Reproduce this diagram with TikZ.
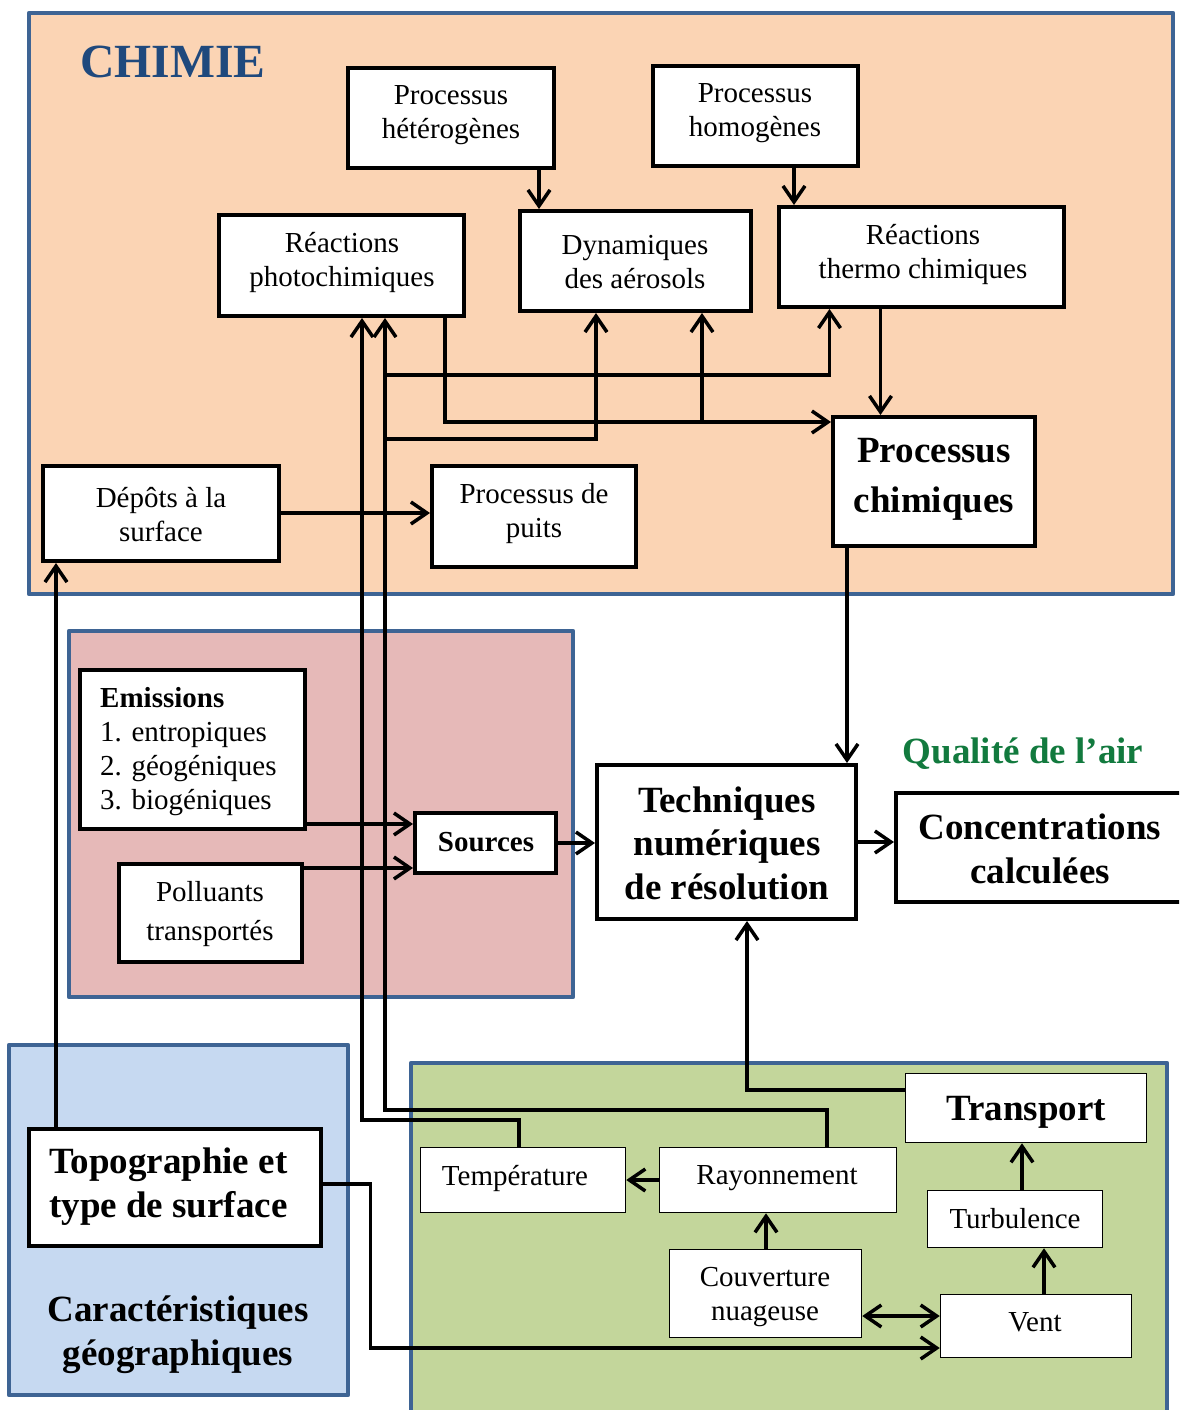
\documentclass[tikz,border=0pt]{standalone}
\usepackage{fontspec}
\setmainfont{Liberation Serif}
\usetikzlibrary{arrows.meta}

\definecolor{chemfill}{HTML}{FBD4B4}
\definecolor{srcfill}{HTML}{E6B9B8}
\definecolor{geofill}{HTML}{C6D9F1}
\definecolor{metfill}{HTML}{C3D69B}
\definecolor{panelframe}{HTML}{3E6494}
\definecolor{chemtitle}{HTML}{1F497D}
\definecolor{airtitle}{HTML}{127A3E}

\tikzset{
  panel/.style={draw=panelframe, line width=4.5pt, line join=round},
  box/.style={draw, fill=white, line width=4pt, inner sep=0pt, rectangle},
  thinbox/.style={draw, fill=white, line width=1.5pt, inner sep=0pt, rectangle},
  txt/.style={inner sep=0pt, align=center, font=\fontsize{29}{34}\selectfont},
  bigtxt/.style={inner sep=0pt, align=center, font=\fontsize{37}{44}\selectfont\bfseries},
  link/.style={line width=3.5pt, -{Straight Barb[length=16pt,width=22pt]}},
  twolink/.style={line width=3.5pt, {Straight Barb[length=16pt,width=22pt]}-{Straight Barb[length=16pt,width=22pt]}},
}

\begin{document}
\begin{tikzpicture}[x=1pt,y=-1pt]
\useasboundingbox (0,0) rectangle (1179,1410);
\fill[white] (0,0) rectangle (1179,1410);
\clip (0,0) rectangle (1179,1410);

% ---- panels ----
\draw[panel, fill=chemfill] (29,13) rectangle (1173,594);
\draw[panel, fill=srcfill] (69,631) rectangle (573,997);
\draw[panel, fill=geofill] (9,1045) rectangle (348,1395);
\draw[panel, fill=metfill] (411,1063) rectangle (1167,1440);

% ---- panel titles ----
\node[inner sep=0pt, text=chemtitle, font=\fontsize{47.6}{56}\selectfont\bfseries] (chimie) at (173,62) {CHIMIE};
\node[bigtxt, text=airtitle] (qualite) at (1023,754) {Qualité de l’air};
\node[bigtxt] (geo) at (178,1335) {Caractéristiques\\géographiques};

% ---- chemistry boxes ----
\node[box, minimum width=206, minimum height=100] (het) at (451,118) {};
\node[txt] (het-t) at (451,115) {Processus\\hétérogènes};
\node[box, minimum width=205, minimum height=100] (hom) at (755.5,116) {};
\node[txt] (hom-t) at (755,113) {Processus\\homogènes};
\node[box, minimum width=245, minimum height=101] (photo) at (341.5,265.5) {};
\node[txt] (photo-t) at (342,262.5) {Réactions\\photochimiques};
\node[box, minimum width=231, minimum height=100] (dyn) at (635.5,261) {};
\node[txt] (dyn-t) at (635,262) {Dynamiques\\des aérosols};
\node[box, minimum width=285, minimum height=100] (thermo) at (921.5,257) {};
\node[txt] (thermo-t) at (923,254.5) {Réactions\\thermo chimiques};
\node[box, minimum width=202, minimum height=129] (pchim) at (934,481.5) {};
\node[bigtxt, font=\fontsize{37}{50}\selectfont\bfseries] (pchim-t) at (934,479.5) {Processus\\chimiques};
\node[box, minimum width=236, minimum height=95] (depots) at (161,513.5) {};
\node[txt] (depots-t) at (161,515) {Dépôts à la\\surface};
\node[box, minimum width=204, minimum height=101] (puits) at (534,516.5) {};
\node[txt] (puits-t) at (534,514) {Processus de\\puits};

% ---- sources ----
\node[box, minimum width=225, minimum height=159] (emis) at (192.5,749.5) {};
\node[txt, align=left, anchor=west] (emis-t) at (100,752) {\textbf{Emissions}\\1. entropiques\\2. géogéniques\\3. biogéniques};
\node[box, minimum width=183, minimum height=98] (poll) at (210.5,913) {};
\node[txt, font=\fontsize{29}{39}\selectfont] (poll-t) at (210,914.5) {Polluants\\transportés};
\node[box, minimum width=141, minimum height=60] (src) at (485.5,843) {};
\node[txt, font=\fontsize{29}{34}\selectfont\bfseries] (src-t) at (486,842) {Sources};

% ---- solver and output ----
\node[box, minimum width=259, minimum height=154] (tech) at (726.5,842) {};
\node[bigtxt, font=\fontsize{37}{43.5}\selectfont\bfseries] (tech-t) at (727,843) {Techniques\\numériques\\de résolution};
\node[box, minimum width=288, minimum height=109] (conc) at (1040,847.5) {};
\node[bigtxt] (conc-t) at (1040,849) {Concentrations\\calculées};

% ---- geography ----
\node[box, minimum width=292, minimum height=117] (topo) at (175,1187.5) {};
\node[bigtxt, align=left, anchor=west] (topo-t) at (49,1187) {Topographie et\\type de surface};

% ---- meteorology ----
\node[thinbox, minimum width=205, minimum height=65] (temp) at (523,1180) {};
\node[txt] (temp-t) at (515,1178) {Température};
\node[thinbox, minimum width=237, minimum height=65] (ray) at (778,1180) {};
\node[txt] (ray-t) at (777,1178) {Rayonnement};
\node[thinbox, minimum width=241, minimum height=69] (trans) at (1026,1108) {};
\node[bigtxt] (trans-t) at (1026,1112) {Transport};
\node[thinbox, minimum width=175, minimum height=57] (turb) at (1015,1219) {};
\node[txt] (turb-t) at (1015,1219) {Turbulence};
\node[thinbox, minimum width=192, minimum height=88] (couv) at (765.5,1293.5) {};
\node[txt] (couv-t) at (765,1297) {Couverture\\nuageuse};
\node[thinbox, minimum width=191, minimum height=63] (vent) at (1036,1326) {};
\node[txt] (vent-t) at (1035,1322) {Vent};

% ---- routing guides ----
\coordinate (xa) at (539,0);
\coordinate (xb) at (794,0);
\coordinate (xc) at (880.5,0);
\coordinate (xd) at (445,0);
\coordinate (yd) at (0,422);
\coordinate (xe) at (702,0);
\coordinate (xr) at (827,0);
\coordinate (yr) at (0,1110);
\coordinate (xq) at (385,0);
\coordinate (yf) at (0,375);
\coordinate (xg) at (829.5,0);
\coordinate (yh) at (0,439);
\coordinate (xi) at (596,0);
\coordinate (xt) at (519,0);
\coordinate (yt) at (0,1120);
\coordinate (xp) at (362,0);
\coordinate (ydp) at (0,513);
\coordinate (xtp) at (56,0);
\coordinate (ytv) at (0,1184);
\coordinate (xv) at (370.5,0);
\coordinate (yv) at (0,1348);
\coordinate (xk) at (847,0);
\coordinate (y1) at (0,824);
\coordinate (y2) at (0,868);
\coordinate (ytr) at (0,1090);
\coordinate (xtr) at (747,0);
\coordinate (xcr) at (766,0);
\coordinate (xtu) at (1022,0);
\coordinate (xve) at (1044,0);
\coordinate (ycv) at (0,1316);

% ---- chemistry links ----
\draw[link] (het.south -| xa) -- (dyn.north -| xa);
\draw[link] (hom.south -| xb) -- (thermo.north -| xb);
\draw[link] (thermo.south -| xc) -- (pchim.north -| xc);
\draw[link] (photo.south -| xd) |- (pchim.west |- yd);
\draw[link] (yd -| xe) -- (dyn.south -| xe);
\draw[link] (depots.east |- ydp) -- (puits.west |- ydp);
\draw[link] (pchim.south -| xk) -- (tech.north -| xk);

% ---- radiation and temperature feed the chemistry ----
\draw[link] (ray.north -| xr) |- (xq |- yr) -- (photo.south -| xq);
\draw[link] (xq |- yf) -| (thermo.south -| xg);
\draw[link] (xq |- yh) -| (dyn.south -| xi);
\draw[link] (temp.north -| xt) |- (xp |- yt) -- (photo.south -| xp);

% ---- geography ----
\draw[link] (topo.north -| xtp) -- (depots.south -| xtp);
\draw[link] (topo.east |- ytv) -| (xv |- yv) -- (vent.west |- yv);

% ---- sources and solver ----
\draw[link] (emis.east |- y1) -- (src.west |- y1);
\draw[link] (poll.east |- y2) -- (src.west |- y2);
\draw[link] (src.east) -- (tech.west |- src.east);
\draw[link] (tech.east) -- (conc.west |- tech.east);
\draw[link] (trans.west |- ytr) -| (tech.south -| xtr);

% ---- meteorology ----
\draw[link] (ray.west) -- (temp.east);
\draw[link] (couv.north -| xcr) -- (ray.south -| xcr);
\draw[link] (turb.north -| xtu) -- (trans.south -| xtu);
\draw[link] (vent.north -| xve) -- (turb.south -| xve);
\draw[twolink] (couv.east |- ycv) -- (vent.west |- ycv);
\end{tikzpicture}
\end{document}
